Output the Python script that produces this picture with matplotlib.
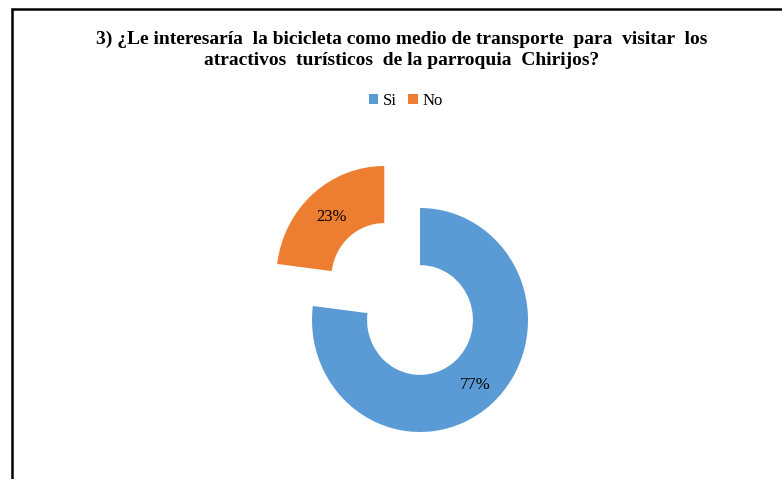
import matplotlib
matplotlib.use('Agg')

import matplotlib.pyplot as plt
from matplotlib.patches import Rectangle

labels = ['Si', 'No']
values = [77, 23]
colors = ['#5B9BD5', '#ED7D31']
title = ('3) ¿Le interesaría  la bicicleta como medio de transporte  para  visitar  los\n'
         'atractivos  turísticos  de la parroquia  Chirijos?')

plt.rcParams['font.family'] = ['Liberation Serif', 'DejaVu Serif']

fig = plt.figure(figsize=(7.82, 4.79), dpi=100)

# frame of the chart area (only top and left edges visible in the crop)
fig.patches.append(Rectangle((11.5 / 782, -0.1), 1.2, 1 - 8.5 / 479 + 0.1,
                             transform=fig.transFigure, fill=False,
                             edgecolor='black', linewidth=1.8))

fig.text(0.514, 1 - 49.5 / 479, title, ha='center', va='center',
         fontsize=14, fontweight='bold', linespacing=1.3)

# donut axes: centre at (420, 320) px, radius ~108 px wide, ~112 px tall
cx, cy = 420, 320
rx, ry = 108, 112
ax = fig.add_axes([(cx - 2 * rx) / 782, 1 - (cy + 2 * ry) / 479,
                   4 * rx / 782, 4 * ry / 479])
wedges, texts = ax.pie(values, colors=colors, startangle=90, counterclock=False,
                       radius=0.5, explode=[0, 0.25],
                       wedgeprops=dict(width=0.255, linewidth=0))
ax.set_xlim(-1, 1)
ax.set_ylim(-1, 1)
ax.set_aspect('auto')
ax.axis('off')

ax.text(0.255, -0.29, f'{values[0]}%', ha='center', va='center', fontsize=12)
ax.text(-0.41, 0.46, f'{values[1]}%', ha='center', va='center', fontsize=12)

fig.legend(wedges, labels, loc='center', bbox_to_anchor=(0.519, 1 - 101 / 479),
           ncol=2, frameon=False, fontsize=12, handlelength=0.55,
           handleheight=0.55, handletextpad=0.3, columnspacing=0.7)

plt.savefig('out.png', dpi=100)
plt.close(fig)
